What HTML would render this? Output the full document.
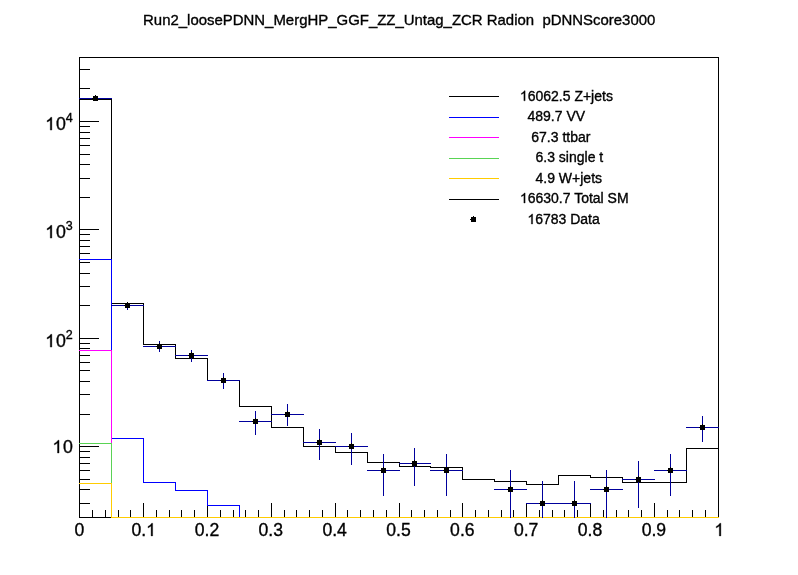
<!DOCTYPE html>
<html><head><meta charset="utf-8"><title>plot</title>
<style>
html,body{margin:0;padding:0;background:#fff;}
body{width:798px;height:575px;overflow:hidden;position:relative;}
svg{display:block;position:absolute;left:0;top:0;}
#tx{will-change:transform;}
text{font-family:"Liberation Sans",sans-serif;fill:#000;stroke:#000;stroke-width:0.35px;}
</style></head><body>
<svg width="798" height="575" viewBox="0 0 798 575">
<rect x="0" y="0" width="798" height="575" fill="#fff"/>
<g shape-rendering="crispEdges"><rect x="79" y="57" width="640" height="1" fill="#000"/><rect x="79" y="517" width="640" height="1" fill="#000"/><rect x="79" y="57" width="1" height="461" fill="#000"/><rect x="718" y="57" width="1" height="461" fill="#000"/><rect x="79" y="503" width="1" height="15" fill="#000"/><rect x="92" y="510" width="1" height="8" fill="#000"/><rect x="105" y="510" width="1" height="8" fill="#000"/><rect x="118" y="510" width="1" height="8" fill="#000"/><rect x="130" y="510" width="1" height="8" fill="#000"/><rect x="143" y="503" width="1" height="15" fill="#000"/><rect x="156" y="510" width="1" height="8" fill="#000"/><rect x="169" y="510" width="1" height="8" fill="#000"/><rect x="181" y="510" width="1" height="8" fill="#000"/><rect x="194" y="510" width="1" height="8" fill="#000"/><rect x="207" y="503" width="1" height="15" fill="#000"/><rect x="220" y="510" width="1" height="8" fill="#000"/><rect x="233" y="510" width="1" height="8" fill="#000"/><rect x="245" y="510" width="1" height="8" fill="#000"/><rect x="258" y="510" width="1" height="8" fill="#000"/><rect x="271" y="503" width="1" height="15" fill="#000"/><rect x="284" y="510" width="1" height="8" fill="#000"/><rect x="296" y="510" width="1" height="8" fill="#000"/><rect x="309" y="510" width="1" height="8" fill="#000"/><rect x="322" y="510" width="1" height="8" fill="#000"/><rect x="335" y="503" width="1" height="15" fill="#000"/><rect x="347" y="510" width="1" height="8" fill="#000"/><rect x="360" y="510" width="1" height="8" fill="#000"/><rect x="373" y="510" width="1" height="8" fill="#000"/><rect x="386" y="510" width="1" height="8" fill="#000"/><rect x="399" y="503" width="1" height="15" fill="#000"/><rect x="411" y="510" width="1" height="8" fill="#000"/><rect x="424" y="510" width="1" height="8" fill="#000"/><rect x="437" y="510" width="1" height="8" fill="#000"/><rect x="450" y="510" width="1" height="8" fill="#000"/><rect x="462" y="503" width="1" height="15" fill="#000"/><rect x="475" y="510" width="1" height="8" fill="#000"/><rect x="488" y="510" width="1" height="8" fill="#000"/><rect x="501" y="510" width="1" height="8" fill="#000"/><rect x="513" y="510" width="1" height="8" fill="#000"/><rect x="526" y="503" width="1" height="15" fill="#000"/><rect x="539" y="510" width="1" height="8" fill="#000"/><rect x="552" y="510" width="1" height="8" fill="#000"/><rect x="564" y="510" width="1" height="8" fill="#000"/><rect x="577" y="510" width="1" height="8" fill="#000"/><rect x="590" y="503" width="1" height="15" fill="#000"/><rect x="603" y="510" width="1" height="8" fill="#000"/><rect x="616" y="510" width="1" height="8" fill="#000"/><rect x="628" y="510" width="1" height="8" fill="#000"/><rect x="641" y="510" width="1" height="8" fill="#000"/><rect x="654" y="503" width="1" height="15" fill="#000"/><rect x="667" y="510" width="1" height="8" fill="#000"/><rect x="679" y="510" width="1" height="8" fill="#000"/><rect x="692" y="510" width="1" height="8" fill="#000"/><rect x="705" y="510" width="1" height="8" fill="#000"/><rect x="718" y="503" width="1" height="15" fill="#000"/><rect x="79" y="503" width="11" height="1" fill="#000"/><rect x="79" y="489" width="11" height="1" fill="#000"/><rect x="79" y="479" width="11" height="1" fill="#000"/><rect x="79" y="470" width="11" height="1" fill="#000"/><rect x="79" y="463" width="11" height="1" fill="#000"/><rect x="79" y="457" width="11" height="1" fill="#000"/><rect x="79" y="451" width="11" height="1" fill="#000"/><rect x="79" y="446" width="20" height="1" fill="#000"/><rect x="79" y="414" width="11" height="1" fill="#000"/><rect x="79" y="394" width="11" height="1" fill="#000"/><rect x="79" y="381" width="11" height="1" fill="#000"/><rect x="79" y="370" width="11" height="1" fill="#000"/><rect x="79" y="362" width="11" height="1" fill="#000"/><rect x="79" y="355" width="11" height="1" fill="#000"/><rect x="79" y="348" width="11" height="1" fill="#000"/><rect x="79" y="343" width="11" height="1" fill="#000"/><rect x="79" y="338" width="20" height="1" fill="#000"/><rect x="79" y="305" width="11" height="1" fill="#000"/><rect x="79" y="286" width="11" height="1" fill="#000"/><rect x="79" y="273" width="11" height="1" fill="#000"/><rect x="79" y="262" width="11" height="1" fill="#000"/><rect x="79" y="253" width="11" height="1" fill="#000"/><rect x="79" y="246" width="11" height="1" fill="#000"/><rect x="79" y="240" width="11" height="1" fill="#000"/><rect x="79" y="234" width="11" height="1" fill="#000"/><rect x="79" y="229" width="20" height="1" fill="#000"/><rect x="79" y="197" width="11" height="1" fill="#000"/><rect x="79" y="178" width="11" height="1" fill="#000"/><rect x="79" y="164" width="11" height="1" fill="#000"/><rect x="79" y="154" width="11" height="1" fill="#000"/><rect x="79" y="145" width="11" height="1" fill="#000"/><rect x="79" y="138" width="11" height="1" fill="#000"/><rect x="79" y="132" width="11" height="1" fill="#000"/><rect x="79" y="126" width="11" height="1" fill="#000"/><rect x="79" y="121" width="20" height="1" fill="#000"/><rect x="79" y="88" width="11" height="1" fill="#000"/><rect x="79" y="69" width="11" height="1" fill="#000"/><rect x="79" y="99" width="33" height="1" fill="#000"/><rect x="111" y="99" width="1" height="205" fill="#000"/><rect x="111" y="303" width="33" height="1" fill="#000"/><rect x="143" y="303" width="1" height="42" fill="#000"/><rect x="143" y="344" width="33" height="1" fill="#000"/><rect x="175" y="344" width="1" height="15" fill="#000"/><rect x="175" y="358" width="33" height="1" fill="#000"/><rect x="207" y="358" width="1" height="23" fill="#000"/><rect x="207" y="380" width="33" height="1" fill="#000"/><rect x="239" y="380" width="1" height="27" fill="#000"/><rect x="239" y="406" width="33" height="1" fill="#000"/><rect x="271" y="406" width="1" height="22" fill="#000"/><rect x="271" y="427" width="33" height="1" fill="#000"/><rect x="303" y="427" width="1" height="20" fill="#000"/><rect x="303" y="446" width="33" height="1" fill="#000"/><rect x="335" y="446" width="1" height="7" fill="#000"/><rect x="335" y="452" width="33" height="1" fill="#000"/><rect x="367" y="452" width="1" height="11" fill="#000"/><rect x="367" y="462" width="33" height="1" fill="#000"/><rect x="399" y="462" width="1" height="5" fill="#000"/><rect x="399" y="466" width="32" height="1" fill="#000"/><rect x="430" y="466" width="1" height="2" fill="#000"/><rect x="430" y="467" width="33" height="1" fill="#000"/><rect x="462" y="467" width="1" height="13" fill="#000"/><rect x="462" y="479" width="33" height="1" fill="#000"/><rect x="494" y="479" width="1" height="3" fill="#000"/><rect x="494" y="481" width="33" height="1" fill="#000"/><rect x="526" y="481" width="1" height="4" fill="#000"/><rect x="526" y="484" width="33" height="1" fill="#000"/><rect x="558" y="475" width="1" height="10" fill="#000"/><rect x="558" y="475" width="33" height="1" fill="#000"/><rect x="590" y="475" width="1" height="3" fill="#000"/><rect x="590" y="477" width="33" height="1" fill="#000"/><rect x="622" y="477" width="1" height="6" fill="#000"/><rect x="622" y="482" width="33" height="1" fill="#000"/><rect x="654" y="482" width="1" height="1" fill="#000"/><rect x="654" y="482" width="33" height="1" fill="#000"/><rect x="686" y="448" width="1" height="35" fill="#000"/><rect x="686" y="448" width="33" height="1" fill="#000"/><rect x="526" y="503" width="1" height="15" fill="#000"/><rect x="590" y="503" width="1" height="15" fill="#000"/><rect x="79" y="259" width="33" height="1" fill="#0000ff"/><rect x="111" y="259" width="1" height="180" fill="#0000ff"/><rect x="111" y="438" width="33" height="1" fill="#0000ff"/><rect x="143" y="438" width="1" height="45" fill="#0000ff"/><rect x="143" y="482" width="33" height="1" fill="#0000ff"/><rect x="175" y="482" width="1" height="9" fill="#0000ff"/><rect x="175" y="490" width="33" height="1" fill="#0000ff"/><rect x="207" y="490" width="1" height="16" fill="#0000ff"/><rect x="207" y="505" width="33" height="1" fill="#0000ff"/><rect x="239" y="505" width="1" height="13" fill="#0000ff"/><rect x="239" y="517" width="33" height="1" fill="#0000ff"/><rect x="79" y="350" width="33" height="1" fill="#ff00ff"/><rect x="111" y="350" width="1" height="168" fill="#ff00ff"/><rect x="111" y="517" width="33" height="1" fill="#ff00ff"/><rect x="79" y="443" width="33" height="1" fill="#59d454"/><rect x="111" y="443" width="1" height="75" fill="#59d454"/><rect x="111" y="517" width="33" height="1" fill="#59d454"/><rect x="79" y="483" width="33" height="1" fill="#ffcc00"/><rect x="111" y="483" width="1" height="35" fill="#ffcc00"/><rect x="111" y="517" width="33" height="1" fill="#ffcc00"/><rect x="143" y="517" width="1" height="1" fill="#ffcc00"/><rect x="143" y="517" width="33" height="1" fill="#ffcc00"/><rect x="175" y="517" width="1" height="1" fill="#ffcc00"/><rect x="175" y="517" width="33" height="1" fill="#ffcc00"/><rect x="207" y="517" width="1" height="1" fill="#ffcc00"/><rect x="207" y="517" width="33" height="1" fill="#ffcc00"/><rect x="239" y="517" width="1" height="1" fill="#ffcc00"/><rect x="239" y="517" width="33" height="1" fill="#ffcc00"/><rect x="271" y="517" width="1" height="1" fill="#ffcc00"/><rect x="271" y="517" width="33" height="1" fill="#ffcc00"/><rect x="303" y="517" width="1" height="1" fill="#ffcc00"/><rect x="303" y="517" width="33" height="1" fill="#ffcc00"/><rect x="335" y="517" width="1" height="1" fill="#ffcc00"/><rect x="335" y="517" width="33" height="1" fill="#ffcc00"/><rect x="367" y="517" width="1" height="1" fill="#ffcc00"/><rect x="367" y="517" width="33" height="1" fill="#ffcc00"/><rect x="399" y="517" width="1" height="1" fill="#ffcc00"/><rect x="399" y="517" width="32" height="1" fill="#ffcc00"/><rect x="430" y="517" width="1" height="1" fill="#ffcc00"/><rect x="430" y="517" width="33" height="1" fill="#ffcc00"/><rect x="462" y="517" width="1" height="1" fill="#ffcc00"/><rect x="462" y="517" width="33" height="1" fill="#ffcc00"/><rect x="494" y="517" width="1" height="1" fill="#ffcc00"/><rect x="494" y="517" width="33" height="1" fill="#ffcc00"/><rect x="526" y="517" width="1" height="1" fill="#ffcc00"/><rect x="526" y="517" width="33" height="1" fill="#ffcc00"/><rect x="558" y="517" width="1" height="1" fill="#ffcc00"/><rect x="558" y="517" width="33" height="1" fill="#ffcc00"/><rect x="590" y="517" width="1" height="1" fill="#ffcc00"/><rect x="590" y="517" width="33" height="1" fill="#ffcc00"/><rect x="622" y="517" width="1" height="1" fill="#ffcc00"/><rect x="622" y="517" width="33" height="1" fill="#ffcc00"/><rect x="654" y="517" width="1" height="1" fill="#ffcc00"/><rect x="654" y="517" width="33" height="1" fill="#ffcc00"/><rect x="686" y="517" width="1" height="1" fill="#ffcc00"/><rect x="686" y="517" width="33" height="1" fill="#ffcc00"/><rect x="79" y="98" width="33" height="1" fill="#00009c"/><rect x="95" y="98" width="1" height="1" fill="#00009c"/><rect x="93" y="96" width="5" height="5" fill="#000"/><rect x="95" y="95" width="1" height="1" fill="#000"/><rect x="92" y="98" width="1" height="1" fill="#000"/><rect x="111" y="305" width="33" height="1" fill="#00009c"/><rect x="127" y="302" width="1" height="8" fill="#00009c"/><rect x="125" y="303" width="5" height="5" fill="#000"/><rect x="127" y="302" width="1" height="1" fill="#000"/><rect x="124" y="305" width="1" height="1" fill="#000"/><rect x="143" y="346" width="33" height="1" fill="#00009c"/><rect x="159" y="341" width="1" height="11" fill="#00009c"/><rect x="157" y="344" width="5" height="5" fill="#000"/><rect x="159" y="343" width="1" height="1" fill="#000"/><rect x="156" y="346" width="1" height="1" fill="#000"/><rect x="175" y="355" width="33" height="1" fill="#00009c"/><rect x="191" y="350" width="1" height="12" fill="#00009c"/><rect x="189" y="353" width="5" height="5" fill="#000"/><rect x="191" y="352" width="1" height="1" fill="#000"/><rect x="188" y="355" width="1" height="1" fill="#000"/><rect x="207" y="380" width="33" height="1" fill="#00009c"/><rect x="223" y="373" width="1" height="16" fill="#00009c"/><rect x="221" y="378" width="5" height="5" fill="#000"/><rect x="223" y="377" width="1" height="1" fill="#000"/><rect x="220" y="380" width="1" height="1" fill="#000"/><rect x="239" y="421" width="33" height="1" fill="#00009c"/><rect x="255" y="411" width="1" height="24" fill="#00009c"/><rect x="253" y="419" width="5" height="5" fill="#000"/><rect x="255" y="418" width="1" height="1" fill="#000"/><rect x="252" y="421" width="1" height="1" fill="#000"/><rect x="271" y="414" width="33" height="1" fill="#00009c"/><rect x="287" y="404" width="1" height="22" fill="#00009c"/><rect x="285" y="412" width="5" height="5" fill="#000"/><rect x="287" y="411" width="1" height="1" fill="#000"/><rect x="284" y="414" width="1" height="1" fill="#000"/><rect x="303" y="442" width="33" height="1" fill="#00009c"/><rect x="319" y="429" width="1" height="31" fill="#00009c"/><rect x="317" y="440" width="5" height="5" fill="#000"/><rect x="319" y="439" width="1" height="1" fill="#000"/><rect x="316" y="442" width="1" height="1" fill="#000"/><rect x="335" y="446" width="33" height="1" fill="#00009c"/><rect x="351" y="433" width="1" height="32" fill="#00009c"/><rect x="349" y="444" width="5" height="5" fill="#000"/><rect x="351" y="443" width="1" height="1" fill="#000"/><rect x="348" y="446" width="1" height="1" fill="#000"/><rect x="367" y="470" width="33" height="1" fill="#00009c"/><rect x="383" y="454" width="1" height="42" fill="#00009c"/><rect x="381" y="468" width="5" height="5" fill="#000"/><rect x="383" y="467" width="1" height="1" fill="#000"/><rect x="380" y="470" width="1" height="1" fill="#000"/><rect x="399" y="463" width="32" height="1" fill="#00009c"/><rect x="414" y="448" width="1" height="38" fill="#00009c"/><rect x="412" y="461" width="5" height="5" fill="#000"/><rect x="414" y="460" width="1" height="1" fill="#000"/><rect x="411" y="463" width="1" height="1" fill="#000"/><rect x="430" y="470" width="33" height="1" fill="#00009c"/><rect x="446" y="454" width="1" height="42" fill="#00009c"/><rect x="444" y="468" width="5" height="5" fill="#000"/><rect x="446" y="467" width="1" height="1" fill="#000"/><rect x="443" y="470" width="1" height="1" fill="#000"/><rect x="494" y="489" width="33" height="1" fill="#00009c"/><rect x="510" y="470" width="1" height="48" fill="#00009c"/><rect x="508" y="487" width="5" height="5" fill="#000"/><rect x="510" y="486" width="1" height="1" fill="#000"/><rect x="507" y="489" width="1" height="1" fill="#000"/><rect x="526" y="503" width="33" height="1" fill="#00009c"/><rect x="542" y="481" width="1" height="37" fill="#00009c"/><rect x="540" y="501" width="5" height="5" fill="#000"/><rect x="542" y="500" width="1" height="1" fill="#000"/><rect x="539" y="503" width="1" height="1" fill="#000"/><rect x="558" y="503" width="33" height="1" fill="#00009c"/><rect x="574" y="481" width="1" height="37" fill="#00009c"/><rect x="572" y="501" width="5" height="5" fill="#000"/><rect x="574" y="500" width="1" height="1" fill="#000"/><rect x="571" y="503" width="1" height="1" fill="#000"/><rect x="590" y="489" width="33" height="1" fill="#00009c"/><rect x="606" y="470" width="1" height="48" fill="#00009c"/><rect x="604" y="487" width="5" height="5" fill="#000"/><rect x="606" y="486" width="1" height="1" fill="#000"/><rect x="603" y="489" width="1" height="1" fill="#000"/><rect x="622" y="479" width="33" height="1" fill="#00009c"/><rect x="638" y="461" width="1" height="47" fill="#00009c"/><rect x="636" y="477" width="5" height="5" fill="#000"/><rect x="638" y="476" width="1" height="1" fill="#000"/><rect x="635" y="479" width="1" height="1" fill="#000"/><rect x="654" y="470" width="33" height="1" fill="#00009c"/><rect x="670" y="454" width="1" height="42" fill="#00009c"/><rect x="668" y="468" width="5" height="5" fill="#000"/><rect x="670" y="467" width="1" height="1" fill="#000"/><rect x="667" y="470" width="1" height="1" fill="#000"/><rect x="686" y="427" width="33" height="1" fill="#00009c"/><rect x="702" y="416" width="1" height="26" fill="#00009c"/><rect x="700" y="425" width="5" height="5" fill="#000"/><rect x="702" y="424" width="1" height="1" fill="#000"/><rect x="699" y="427" width="1" height="1" fill="#000"/><rect x="449" y="96" width="50" height="1" fill="#000"/><rect x="449" y="117" width="50" height="1" fill="#0000ff"/><rect x="449" y="137" width="50" height="1" fill="#ff00ff"/><rect x="449" y="158" width="50" height="1" fill="#59d454"/><rect x="449" y="178" width="50" height="1" fill="#ffcc00"/><rect x="449" y="199" width="50" height="1" fill="#000"/><rect x="471" y="217" width="5" height="5" fill="#000"/><rect x="473" y="216" width="1" height="1" fill="#000"/><rect x="470" y="219" width="1" height="1" fill="#000"/></g>
</svg>
<svg id="tx" width="798" height="575" viewBox="0 0 798 575">
<g><text x="399.20" y="24.70" font-size="14.95" text-anchor="middle">Run2_loosePDNN_MergHP_GGF_ZZ_Untag_ZCR Radion&#160;&#160;pDNNScore3000</text><text x="79.30" y="535.90" font-size="17.60" text-anchor="middle">0</text><text x="131.41" y="535.90" font-size="17.60" text-anchor="start">0.</text><path d="M0.3726 0H0.2847V-0.5601Q0.2529 -0.5298 0.2014 -0.4995T0.1089 -0.4541V-0.5391Q0.1826 -0.5737 0.2378 -0.623T0.3159 -0.7187H0.3726Z" transform="translate(146.09 535.90) scale(17.600)" stroke="#000" stroke-width="0.0199"/><text x="206.98" y="535.90" font-size="17.60" text-anchor="middle">0.2</text><text x="270.82" y="535.90" font-size="17.60" text-anchor="middle">0.3</text><text x="334.66" y="535.90" font-size="17.60" text-anchor="middle">0.4</text><text x="398.50" y="535.90" font-size="17.60" text-anchor="middle">0.5</text><text x="462.34" y="535.90" font-size="17.60" text-anchor="middle">0.6</text><text x="526.18" y="535.90" font-size="17.60" text-anchor="middle">0.7</text><text x="590.02" y="535.90" font-size="17.60" text-anchor="middle">0.8</text><text x="653.86" y="535.90" font-size="17.60" text-anchor="middle">0.9</text><path d="M0.3726 0H0.2847V-0.5601Q0.2529 -0.5298 0.2014 -0.4995T0.1089 -0.4541V-0.5391Q0.1826 -0.5737 0.2378 -0.623T0.3159 -0.7187H0.3726Z" transform="translate(714.31 535.90) scale(17.600)" stroke="#000" stroke-width="0.0199"/><path d="M0.3726 0H0.2847V-0.5601Q0.2529 -0.5298 0.2014 -0.4995T0.1089 -0.4541V-0.5391Q0.1826 -0.5737 0.2378 -0.623T0.3159 -0.7187H0.3726Z" transform="translate(45.21 130.10) scale(17.800)" stroke="#000" stroke-width="0.0197"/><text x="55.90" y="130.10" font-size="17.80" text-anchor="start">0</text><text x="65.80" y="121.90" font-size="12.50" text-anchor="start">4</text><path d="M0.3726 0H0.2847V-0.5601Q0.2529 -0.5298 0.2014 -0.4995T0.1089 -0.4541V-0.5391Q0.1826 -0.5737 0.2378 -0.623T0.3159 -0.7187H0.3726Z" transform="translate(45.21 238.10) scale(17.800)" stroke="#000" stroke-width="0.0197"/><text x="55.90" y="238.10" font-size="17.80" text-anchor="start">0</text><text x="65.80" y="229.90" font-size="12.50" text-anchor="start">3</text><path d="M0.3726 0H0.2847V-0.5601Q0.2529 -0.5298 0.2014 -0.4995T0.1089 -0.4541V-0.5391Q0.1826 -0.5737 0.2378 -0.623T0.3159 -0.7187H0.3726Z" transform="translate(45.21 347.10) scale(17.800)" stroke="#000" stroke-width="0.0197"/><text x="55.90" y="347.10" font-size="17.80" text-anchor="start">0</text><text x="65.80" y="338.90" font-size="12.50" text-anchor="start">2</text><path d="M0.3726 0H0.2847V-0.5601Q0.2529 -0.5298 0.2014 -0.4995T0.1089 -0.4541V-0.5391Q0.1826 -0.5737 0.2378 -0.623T0.3159 -0.7187H0.3726Z" transform="translate(52.41 453.00) scale(17.800)" stroke="#000" stroke-width="0.0197"/><text x="63.10" y="453.00" font-size="17.80" text-anchor="start">0</text><path d="M0.3726 0H0.2847V-0.5601Q0.2529 -0.5298 0.2014 -0.4995T0.1089 -0.4541V-0.5391Q0.1826 -0.5737 0.2378 -0.623T0.3159 -0.7187H0.3726Z" transform="translate(519.90 100.80) scale(14.000)" stroke="#000" stroke-width="0.0250"/><text x="527.68" y="100.80" font-size="14.00" text-anchor="start">6062.5 Z+jets</text><text x="527.50" y="121.20" font-size="14.00" text-anchor="start">489.7 VV</text><text x="531.30" y="142.00" font-size="14.00" text-anchor="start">67.3 ttbar</text><text x="535.50" y="162.20" font-size="14.00" text-anchor="start">6.3 single t</text><text x="535.50" y="182.70" font-size="14.00" text-anchor="start">4.9 W+jets</text><path d="M0.3726 0H0.2847V-0.5601Q0.2529 -0.5298 0.2014 -0.4995T0.1089 -0.4541V-0.5391Q0.1826 -0.5737 0.2378 -0.623T0.3159 -0.7187H0.3726Z" transform="translate(519.90 203.00) scale(14.000)" stroke="#000" stroke-width="0.0250"/><text x="527.68" y="203.00" font-size="14.00" text-anchor="start">6630.7 Total SM</text><path d="M0.3726 0H0.2847V-0.5601Q0.2529 -0.5298 0.2014 -0.4995T0.1089 -0.4541V-0.5391Q0.1826 -0.5737 0.2378 -0.623T0.3159 -0.7187H0.3726Z" transform="translate(527.40 224.00) scale(14.000)" stroke="#000" stroke-width="0.0250"/><text x="535.18" y="224.00" font-size="14.00" text-anchor="start">6783 Data</text></g>
</svg>
</body></html>
